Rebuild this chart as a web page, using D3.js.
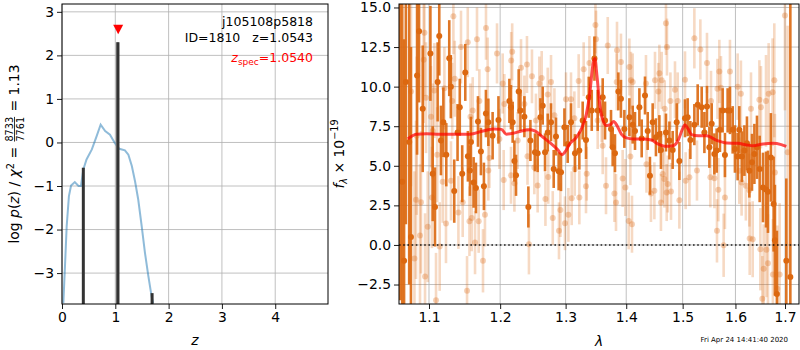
<!DOCTYPE html>
<html>
<head>
<meta charset="utf-8">
<script src="https://cdn.jsdelivr.net/npm/d3@7"></script>
<style>
body { margin: 0; background: #fff; }
text { font-family: "DejaVu Sans", sans-serif; }
</style>
</head>
<body>
<svg width="800" height="350"></svg>
<script>
// ---- data ----
var zTicks = [0, 1, 2, 3, 4];
var logpTicks = [-3, -2, -1, 0, 1, 2, 3];
var waveTicks = [1.1, 1.2, 1.3, 1.4, 1.5, 1.6, 1.7];
var fluxTicks = [-2.5, 0, 2.5, 5, 7.5, 10, 12.5, 15];

// log p(z) curve
var pzZ =   [0.025, 0.056, 0.088, 0.13, 0.17, 0.24, 0.31, 0.356, 0.40, 0.46, 0.56, 0.65, 0.725, 0.81, 0.90, 0.99, 1.075, 1.18, 1.245, 1.31, 1.37, 1.43, 1.495, 1.557, 1.62, 1.68, 1.71];
var pzLog = [-3.69, -2.84, -1.92, -1.23, -0.99, -0.91, -1.0, -1.0, -0.62, -0.39, -0.16, 0.145, 0.41, 0.26, 0.18, -0.01, -0.145, -0.18, -0.28, -0.54, -0.89, -1.31, -1.92, -2.54, -3.07, -3.53, -3.69];

// chi2 minima bars
var barZ =   [0.40, 1.036, 1.050, 1.69];
var barTop = [-0.58, 2.3, 2.3, -3.46];
var barShade = ["#333", "#999", "#333", "#333"];

var zSpec = 1.054;
var zSpecMark = 2.6;

// model line
var modelWave = [1.0719, 1.0831, 1.0965, 1.1145, 1.1373, 1.1562, 1.1751, 1.1919, 1.2018, 1.2091, 1.2190, 1.2316, 1.2441, 1.2518, 1.2646, 1.2776, 1.2880, 1.2943, 1.2986, 1.3065, 1.3172, 1.3253, 1.3335, 1.3389, 1.3444, 1.3472, 1.3510, 1.3553, 1.3608, 1.3664, 1.3732, 1.3787, 1.3843, 1.3917, 1.4002, 1.4116, 1.4290, 1.4437, 1.4554, 1.4674, 1.4825, 1.4916, 1.4998, 1.5040, 1.5101, 1.5164, 1.5289, 1.5447, 1.5637, 1.5829, 1.6049, 1.6215, 1.6347, 1.6548, 1.6750, 1.6922, 1.7027];
var modelFlux = [6.7, 7.0, 7.03, 7.0, 7.0, 7.0, 7.2, 7.33, 7.3, 7.0, 7.05, 7.2, 7.27, 7.2, 6.8, 6.38, 6.0, 5.7, 5.85, 6.38, 6.8, 7.33, 8.28, 9.55, 11.45, 11.77, 10.6, 8.9, 7.86, 7.54, 7.6, 7.8, 7.54, 7.0, 6.76, 6.7, 6.7, 6.63, 6.38, 6.23, 6.27, 6.6, 7.33, 7.6, 7.33, 6.97, 6.9, 6.9, 6.6, 6.44, 6.42, 6.32, 6.27, 6.38, 6.42, 6.34, 6.23];

// first spectrum: [wavelength, flux, error]
var darkPts = [
  [1.0620, 16.5, 20], [1.0646, 4.0, 12], [1.0670, -1.0, 14], [1.0693, 10.3, 9], [1.0737, 6.5, 9],
  [1.0760, 0.5, 12], [1.0841, 10.7, 5], [1.0867, 13.5, 4.5],
  [1.0916, 8.6, 4], [1.1019, 12.1, 3], [1.1050, 4.5, 3], [1.1081, 2.4, 2.5], [1.1117, 10.3, 2.5],
  [1.1139, 13.2, 2.5], [1.1162, 6.6, 2.2], [1.1195, 7.75, 2.2], [1.1235, 5.7, 2], [1.1276, 11.8, 2.4],
  [1.1298, 10.0, 2], [1.1345, 3.4, 2], [1.1391, 7.1, 1.8], [1.1422, 8.7, 1.8], [1.1456, 4.5, 1.8],
  [1.1499, 10.9, 1.8], [1.1536, 5.6, 1.6], [1.1565, 4.7, 1.6], [1.1579, 6.5, 1.6], [1.1617, 3.95, 1.6],
  [1.1650, 3.6, 1.6], [1.1679, 7.8, 1.6], [1.1721, 5.9, 1.5], [1.1764, 3.7, 1.5], [1.1793, 8.3, 1.5],
  [1.1828, 7.75, 1.5], [1.1890, 6.9, 1.5], [1.1975, 7.9, 1.5], [1.2136, 9.1, 1.4], [1.2160, 8.7, 1.4],
  [1.2185, 7.75, 1.3], [1.2211, 5.3, 1.3], [1.2235, 4.4, 1.3], [1.2275, 9.7, 1.4], [1.2301, 8.5, 1.3],
  [1.2361, 8.1, 1.3], [1.2421, 2.4, 1.3], [1.2452, 6.6, 1.3], [1.2522, 5.85, 1.2], [1.2563, 5.8, 1.2],
  [1.2605, 8.07, 1.2], [1.2641, 8.8, 1.2], [1.2677, 5.85, 1.2], [1.2719, 7.1, 1.2], [1.2770, 7.75, 1.2],
  [1.2812, 4.8, 1.2], [1.2848, 6.85, 1.2], [1.2890, 4.65, 1.2], [1.2927, 4.6, 1.2], [1.2981, 7.43, 1.2],
  [1.3033, 6.38, 1.2], [1.3086, 7.75, 1.2], [1.3150, 5.8, 1.2], [1.3220, 5.96, 1.2], [1.3274, 7.86, 1.2],
  [1.3328, 6.63, 1.2], [1.3373, 9.33, 1.3], [1.3422, 8.5, 1.3], [1.3466, 11.77, 1.4], [1.3520, 8.5, 1.3],
  [1.3603, 9.33, 1.2], [1.3642, 7.86, 1.2], [1.3742, 7.33, 1.2], [1.3770, 6.17, 1.2], [1.3809, 5.8, 1.2],
  [1.3866, 9.7, 1.2], [1.3910, 9.23, 1.2], [1.3968, 7.33, 1.2], [1.4054, 8.07, 1.2], [1.4111, 7.6, 1.2],
  [1.4151, 7.2, 1.2], [1.4227, 8.7, 1.2], [1.4267, 6.73, 1.2], [1.4325, 9.44, 1.2], [1.4372, 7.2, 1.2],
  [1.4412, 4.37, 1.2], [1.4460, 7.75, 1.2], [1.4518, 6.8, 1.2], [1.4579, 7.0, 1.2], [1.4607, 6.0, 1.2],
  [1.4697, 7.1, 1.2], [1.4759, 6.6, 1.2], [1.4818, 6.0, 1.2], [1.4891, 7.75, 1.2], [1.4940, 5.3, 1.2],
  [1.5043, 8.0, 1.2], [1.5092, 8.07, 1.2], [1.5142, 6.63, 1.2], [1.5216, 7.6, 1.3], [1.5278, 8.85, 1.3],
  [1.5353, 8.7, 1.3], [1.5404, 7.1, 1.3], [1.5453, 8.75, 1.3], [1.5498, 6.17, 1.3], [1.5542, 7.65, 1.3],
  [1.5593, 5.75, 1.3], [1.5637, 5.96, 1.4], [1.5700, 7.27, 1.4], [1.5752, 8.5, 1.4], [1.5796, 5.68, 1.4],
  [1.5848, 8.5, 1.4], [1.5893, 8.5, 1.5], [1.5946, 7.27, 1.5], [1.5990, 6.06, 1.5], [1.6043, 5.58, 1.5],
  [1.6076, 7.27, 1.5], [1.6128, 5.58, 1.6], [1.6176, 5.96, 1.6], [1.6227, 6.42, 1.7], [1.6275, 4.69, 1.7],
  [1.6327, 5.22, 1.8], [1.6375, 5.75, 1.9], [1.6427, 6.17, 2.0], [1.6481, 4.8, 2.1], [1.6548, 3.63, 2.2],
  [1.6609, 3.5, 2.4], [1.6649, 3.36, 2.6], [1.6709, 5.53, 2.8], [1.6765, 2.58, 3], [1.6791, 0.3, 3.5],
  [1.6832, -3.1, 4], [1.7027, -1.0, 5.2], [1.7111, -2.03, 18]
];

// second spectrum (drawn faint): [wavelength, flux, error]
var lightPts = [
  [1.0761, 9.7, 6], [1.0806, -0.85, 5.5], [1.0827, 2.85, 5], [1.0836, 6.9, 5], [1.0880, 0.6, 4.5],
  [1.0893, 2.7, 4.5], [1.0929, 11.7, 4], [1.0939, 13.4, 4], [1.0947, -2.0, 4], [1.0960, 9.3, 3.5],
  [1.0983, 1.15, 3.5], [1.1027, 8.1, 3.2], [1.1040, 3.0, 3.2], [1.1050, 7.2, 3], [1.1073, 9.75, 3],
  [1.1095, -3.5, 3], [1.1111, 5.7, 3], [1.1145, -0.1, 2.8], [1.1186, 4.0, 2.6], [1.1209, 9.9, 2.6],
  [1.1231, 1.35, 2.5], [1.1300, 4.05, 2.5], [1.1317, 9.1, 2.4], [1.1333, 14.45, 2.4], [1.1352, 10.5, 2.4],
  [1.1403, 2.05, 2.3], [1.1439, 12.5, 2.3], [1.1463, 2.7, 2.2], [1.1524, -2.9, 2.2], [1.1534, 12.8, 2.2],
  [1.1558, 1.5, 2.2], [1.1572, 8.1, 2.1], [1.1590, 1.7, 2.1], [1.1604, 8.5, 2.1], [1.1637, 0.15, 2.0],
  [1.1665, 13.0, 2.0], [1.1689, 1.5, 2.0], [1.1699, 9.1, 2.0], [1.1751, -1.0, 2.0], [1.1779, 1.9, 2.0],
  [1.1794, 13.7, 2.0], [1.1818, 11.1, 2.0], [1.1828, 4.7, 1.9], [1.1843, 5.5, 1.9], [1.1954, 12.1, 1.9],
  [1.1989, 6.7, 1.9], [1.2037, 10.2, 1.9], [1.2052, 4.1, 1.9], [1.2062, 8.9, 1.9], [1.2160, 4.4, 1.8],
  [1.2163, 11.65, 1.8], [1.2178, 12.2, 1.8], [1.2211, 3.9, 1.8], [1.2260, 6.6, 1.8], [1.2310, 11.2, 1.8],
  [1.2361, 8.9, 1.8], [1.2400, 11.4, 1.8], [1.2408, 5.6, 1.8], [1.2430, 0.04, 1.9], [1.2476, 10.65, 1.7],
  [1.2512, 4.9, 1.7], [1.2537, 7.86, 1.7], [1.2563, 3.75, 1.7], [1.2589, 10.2, 1.7], [1.2625, 10.55, 1.7],
  [1.2683, 2.9, 1.7], [1.2719, 9.5, 1.7], [1.2727, 4.3, 1.7], [1.2770, 10.3, 1.7], [1.2797, 1.7, 1.7],
  [1.2823, 8.2, 1.7], [1.2895, 0.89, 1.8], [1.2917, 2.2, 1.7], [1.2990, 1.37, 1.7], [1.3006, 9.2, 1.7],
  [1.3044, 1.9, 1.7], [1.3086, 9.2, 1.7], [1.3097, 2.95, 1.7], [1.3140, 8.0, 1.7], [1.3145, 4.8, 1.7],
  [1.3209, 10.35, 1.7], [1.3220, 3.0, 1.7], [1.3290, 11.1, 1.7], [1.3328, 3.7, 1.7], [1.3340, 4.5, 1.7],
  [1.3384, 11.5, 1.7], [1.3483, 13.9, 1.8], [1.3493, 13.0, 1.8], [1.3520, 7.86, 1.8], [1.3586, 8.28, 1.8],
  [1.3603, 6.27, 1.8], [1.3658, 3.74, 1.8], [1.3687, 12.6, 1.8], [1.3799, 3.25, 1.8], [1.3826, 2.68, 1.8],
  [1.3838, 10.3, 1.8], [1.3843, 12.3, 1.8], [1.3910, 11.55, 1.8], [1.3939, 4.2, 1.8], [1.3985, 3.63, 1.8],
  [1.4042, 1.52, 1.8], [1.4054, 11.24, 1.8], [1.4071, 5.58, 1.8], [1.4081, 10.4, 1.8], [1.4099, 1.31, 1.8],
  [1.4111, 10.3, 1.8], [1.4342, 10.2, 1.8], [1.4351, 5.1, 1.8], [1.4430, 3.25, 1.8], [1.4490, 3.42, 1.8],
  [1.4501, 10.4, 1.8], [1.4561, 9.7, 1.8], [1.4579, 10.85, 1.8], [1.4607, 2.68, 1.8], [1.4620, 10.4, 1.8],
  [1.4638, 4.48, 1.8], [1.4668, 4.16, 1.8], [1.4674, 8.6, 1.8], [1.4697, 14.0, 2.0], [1.4710, 3.31, 1.8],
  [1.4715, 12.5, 1.8], [1.4728, 3.85, 1.8], [1.4777, 9.1, 1.8], [1.4788, 3.38, 1.8], [1.4860, 9.8, 1.8],
  [1.4909, 9.1, 1.8], [1.4940, 2.83, 1.8], [1.5043, 10.43, 1.8], [1.5055, 4.06, 1.8], [1.5124, 4.27, 1.8],
  [1.5216, 13.05, 1.9], [1.5265, 4.7, 1.9], [1.5328, 12.35, 1.9], [1.5453, 11.5, 1.9], [1.5517, 4.27, 1.9],
  [1.5529, 9.1, 1.9], [1.5593, 4.22, 1.9], [1.5643, 0.89, 2.0], [1.5652, 9.86, 1.9], [1.5669, 3.49, 2.0],
  [1.5688, 10.96, 2.0], [1.5719, 9.93, 2.0], [1.5771, -0.02, 2.0], [1.5796, 3.0, 2.0], [1.5893, 10.96, 2.0],
  [1.6043, 10.0, 2.1], [1.6076, 4.69, 2.1], [1.6107, 9.55, 2.1], [1.6121, 3.95, 2.1], [1.6205, 3.74, 2.2],
  [1.6275, 3.46, 2.3], [1.6281, 0.4, 2.3], [1.6307, 8.6, 2.3], [1.6341, 0.36, 2.4], [1.6475, 9.17, 2.5],
  [1.6495, -0.27, 2.6], [1.6507, 8.7, 2.6], [1.6535, -3.4, 2.7], [1.6562, -1.5, 2.8], [1.6609, 9.1, 2.9],
  [1.6617, -0.3, 3.0], [1.6649, -1.16, 3.1], [1.6663, 9.55, 3.2], [1.6744, 9.65, 3.4], [1.6750, -1.86, 3.5],
  [1.6779, 10.4, 3.6], [1.6791, 4.58, 3.7], [1.6840, -2.77, 4], [1.6888, -1.86, 4.5], [1.6998, 14.5, 6],
  [1.7054, 5.85, 8]
];

// ---- drawing ----
var svg = d3.select("svg");
var tickFont = 13.9;
var gridColor = "#b0b0b0";
var orange = "rgb(220,104,16)";

var xz = d3.scaleLinear().domain([0, 4.99]).range([62, 328]);
var yz = d3.scaleLinear().domain([-3.71, 3.18]).range([304, 4]);
var xw = d3.scaleLog().domain([1.0604, 1.7293]).range([399, 799]);
var yf = d3.scaleLinear().domain([-3.73, 15.22]).range([304, 4]);

function clipFor(id, x, y) {
  svg.append("clipPath").attr("id", id).append("rect")
    .attr("x", x.range()[0]).attr("y", y.range()[1])
    .attr("width", x.range()[1] - x.range()[0])
    .attr("height", y.range()[0] - y.range()[1]);
}
clipFor("clipL", xz, yz);
clipFor("clipR", xw, yf);

function grid(x, y, xt, yt) {
  var g = svg.append("g").attr("stroke", gridColor).attr("stroke-width", 0.8);
  g.selectAll(".gx").data(xt).enter().append("line")
    .attr("x1", function(d) { return x(d); }).attr("x2", function(d) { return x(d); })
    .attr("y1", y.range()[0]).attr("y2", y.range()[1]);
  g.selectAll(".gy").data(yt).enter().append("line")
    .attr("y1", function(d) { return y(d); }).attr("y2", function(d) { return y(d); })
    .attr("x1", x.range()[0]).attr("x2", x.range()[1]);
}
grid(xz, yz, zTicks, logpTicks);
grid(xw, yf, waveTicks, fluxTicks);

function axes(x, y, xt, yt, xfmt, yfmt) {
  var gx = svg.append("g").attr("transform", "translate(0," + y.range()[0] + ")")
    .call(d3.axisBottom(x).tickValues(xt).tickFormat(xfmt).tickSize(5).tickPadding(3));
  var gy = svg.append("g").attr("transform", "translate(" + x.range()[0] + ",0)")
    .call(d3.axisLeft(y).tickValues(yt).tickFormat(yfmt).tickSize(5).tickPadding(3));
  [gx, gy].forEach(function(g) {
    g.select(".domain").remove();
    g.attr("font-size", tickFont).attr("font-family", "DejaVu Sans, sans-serif");
    g.selectAll("line").attr("stroke", "#000").attr("stroke-width", 0.9);
    g.selectAll("text").attr("fill", "#000");
  });
  svg.append("rect")
    .attr("x", x.range()[0]).attr("y", y.range()[1])
    .attr("width", x.range()[1] - x.range()[0])
    .attr("height", y.range()[0] - y.range()[1])
    .attr("fill", "none").attr("stroke", "#000").attr("stroke-width", 1);
}

// ---- left panel ----
var left = svg.append("g").attr("clip-path", "url(#clipL)");

var pz = pzZ.map(function(z, i) { return [z, pzLog[i]]; });
left.append("path").datum(pz)
  .attr("fill", "none").attr("stroke", "#1f77b4").attr("stroke-opacity", 0.5).attr("stroke-width", 2)
  .attr("d", d3.line().x(function(d) { return xz(d[0]); }).y(function(d) { return yz(d[1]); }));

left.selectAll(".bar").data(barZ).enter().append("line")
  .attr("x1", function(d) { return xz(d); }).attr("x2", function(d) { return xz(d); })
  .attr("y1", yz(-3.71)).attr("y2", function(d, i) { return yz(barTop[i]); })
  .attr("stroke", function(d, i) { return barShade[i]; }).attr("stroke-width", 3);

var tx = xz(zSpec), ty = yz(zSpecMark);
svg.append("path")
  .attr("d", "M" + (tx - 5) + "," + (ty - 4.5) + "L" + (tx + 5) + "," + (ty - 4.5) + "L" + tx + "," + (ty + 5) + "Z")
  .attr("fill", "red");

axes(xz, yz, zTicks, logpTicks, d3.format("d"), d3.format("d"));

// annotations
var ann = svg.append("g").attr("font-size", 12.5).attr("text-anchor", "end");
ann.append("text").attr("x", 313).attr("y", 26).text("j105108p5818");
ann.append("text").attr("x", 313).attr("y", 42).attr("xml:space", "preserve").text("ID=1810   z=1.0543");
var zs = ann.append("text").attr("x", 313).attr("y", 62).attr("fill", "red");
zs.append("tspan").attr("font-style", "italic").text("z");
zs.append("tspan").attr("font-size", 9).attr("dy", 3).text("spec");
zs.append("tspan").attr("dy", -3).text("=1.0540");

// left y label with stacked fraction
var yl = svg.append("g").attr("font-size", tickFont);
var ylInner = yl.append("g");
var p1 = ylInner.append("text").attr("x", 0).attr("y", 0);
p1.append("tspan").text("log ");
p1.append("tspan").attr("font-style", "italic").text("p");
p1.append("tspan").text("(");
p1.append("tspan").attr("font-style", "italic").text("z");
p1.append("tspan").text(") / ");
p1.append("tspan").attr("font-style", "italic").text("χ");
p1.append("tspan").attr("font-size", 9.7).attr("dy", -5.5).text("2");
p1.append("tspan").attr("dy", 5.5).attr("xml:space", "preserve").text(" = ");
var w1 = p1.node().getComputedTextLength();
var num = ylInner.append("text").attr("font-size", 9.7).attr("text-anchor", "middle").attr("y", -6.5).text("8733");
var fw = num.node().getComputedTextLength() + 2;
num.attr("x", w1 + fw / 2);
ylInner.append("text").attr("font-size", 9.7).attr("text-anchor", "middle")
  .attr("x", w1 + fw / 2).attr("y", 4.5).text("7761");
ylInner.append("line").attr("x1", w1 + 1).attr("x2", w1 + fw - 1)
  .attr("y1", -4.5).attr("y2", -4.5).attr("stroke", "#000").attr("stroke-width", 0.8);
var p2 = ylInner.append("text").attr("x", w1 + fw).attr("y", 0).attr("xml:space", "preserve").text(" = 1.13");
var wTot = w1 + fw + p2.node().getComputedTextLength();
ylInner.attr("transform", "translate(" + (-wTot / 2) + ",0)");
yl.attr("transform", "translate(19,154) rotate(-90)");

svg.append("text").attr("x", (xz.range()[0] + xz.range()[1]) / 2).attr("y", 345)
  .attr("text-anchor", "middle").attr("font-size", tickFont).attr("font-style", "italic").text("z");

// ---- right panel ----
var right = svg.append("g").attr("clip-path", "url(#clipR)");

function errbars(g, pts, barOpacity, dotOpacity) {
  g.selectAll(".eb").data(pts).enter().append("line")
    .attr("x1", function(d) { return xw(d[0]); }).attr("x2", function(d) { return xw(d[0]); })
    .attr("y1", function(d) { return yf(d[1] - d[2]); }).attr("y2", function(d) { return yf(d[1] + d[2]); })
    .attr("stroke", orange).attr("stroke-width", 2.6).attr("stroke-opacity", barOpacity);
  g.selectAll(".pt").data(pts).enter().append("circle")
    .attr("cx", function(d) { return xw(d[0]); }).attr("cy", function(d) { return yf(d[1]); })
    .attr("r", 3).attr("fill", orange).attr("fill-opacity", dotOpacity);
}
errbars(right.append("g"), lightPts, 0.25, 0.3);
errbars(right.append("g"), darkPts, 0.9, 1);

right.append("line").attr("x1", xw.range()[0]).attr("x2", xw.range()[1])
  .attr("y1", yf(0)).attr("y2", yf(0))
  .attr("stroke", "#000").attr("stroke-width", 1.6).attr("stroke-dasharray", "1.6,2.6").attr("opacity", 0.85);

var model = modelWave.map(function(w, i) { return [w, modelFlux[i]]; });
right.append("path").datum(model)
  .attr("fill", "none").attr("stroke", "red").attr("stroke-opacity", 0.7).attr("stroke-width", 3)
  .attr("d", d3.line().curve(d3.curveMonotoneX)
    .x(function(d) { return xw(d[0]); }).y(function(d) { return yf(d[1]); }));

axes(xw, yf, waveTicks, fluxTicks, d3.format(".1f"), d3.format(".1f"));

var fl = svg.append("text").attr("font-size", tickFont).attr("text-anchor", "middle")
  .attr("transform", "translate(344,154) rotate(-90)");
fl.append("tspan").attr("font-style", "italic").text("f");
fl.append("tspan").attr("font-style", "italic").attr("font-size", 9.7).attr("dy", 3).text("λ");
fl.append("tspan").attr("dy", -3).attr("xml:space", "preserve").text(" × 10");
fl.append("tspan").attr("font-size", 9.7).attr("dy", -6).text("−19");

svg.append("text").attr("x", (xw.range()[0] + xw.range()[1]) / 2).attr("y", 346)
  .attr("text-anchor", "middle").attr("font-size", tickFont).attr("font-style", "italic").text("λ");

svg.append("text").attr("x", 788).attr("y", 342).attr("text-anchor", "end")
  .attr("font-size", 7).text("Fri Apr 24 14:41:40 2020");
</script>
</body>
</html>
